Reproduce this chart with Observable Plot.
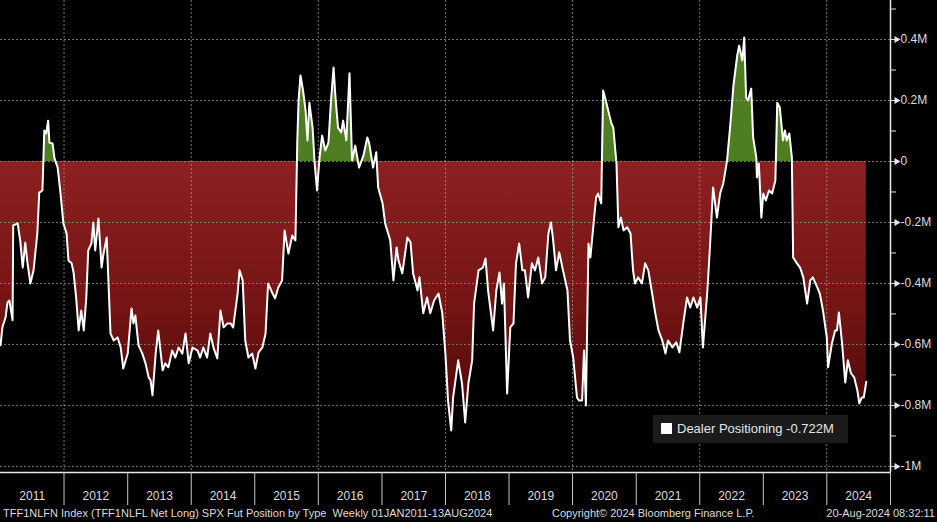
<!DOCTYPE html>
<html>
<head>
<meta charset="utf-8">
<script src="https://cdn.jsdelivr.net/npm/d3@7"></script>
<script src="https://cdn.jsdelivr.net/npm/@observablehq/plot@0.6"></script>
<style>
  html, body { margin: 0; padding: 0; background: #000; }
  #wrap { position: relative; width: 937px; height: 522px; overflow: hidden; background: #000;
          font-family: "Liberation Sans", Arial, sans-serif; }
  #chart svg { display: block; }
  #legend { position: absolute; left: 653px; top: 415px; width: 195px; height: 28px; background: #1b1b1b;
            color: #e6e6e6; font-size: 13px; line-height: 28px; white-space: nowrap; }
  #legend .sw { display: inline-block; width: 11px; height: 11px; background: #fff; margin: 0 5px 0 8px; vertical-align: -1px; }
  #footer { position: absolute; left: 0; top: 505px; width: 937px; height: 17px; color: #dcdcdc;
            font-size: 11px; line-height: 17px; white-space: nowrap; }
  #footer span { position: absolute; top: 0; }
</style>
</head>
<body>
<div id="wrap">
  <div id="chart"></div>
  <div id="legend"><span class="sw"></span><span id="legendText"></span></div>
  <div id="footer">
    <span id="fLeft" style="left:3px"></span>
    <span id="fMid" style="left:552px"></span>
    <span id="fRight" style="right:2px"></span>
  </div>
</div>
<script>
// ---- Data, weekly SPX futures dealer net positioning, in millions ----
const dealerYear = [
  2011.00,2011.03,2011.08,2011.11,2011.14,2011.19,2011.20,2011.27,2011.31,2011.35,2011.39,2011.42,2011.47,2011.52,
  2011.58,2011.61,2011.66,2011.69,2011.72,2011.75,2011.77,2011.82,2011.85,2011.90,2011.94,2011.99,
  2012.04,2012.07,2012.12,2012.15,2012.19,2012.23,2012.27,2012.31,2012.35,2012.38,2012.43,2012.46,2012.49,2012.54,
  2012.59,2012.62,2012.67,2012.68,2012.73,2012.78,2012.84,2012.89,2012.93,
  2013.00,2013.06,2013.09,2013.12,2013.17,2013.23,2013.28,2013.33,2013.36,2013.39,2013.44,2013.48,2013.55,2013.59,
  2013.64,2013.70,2013.75,2013.80,2013.86,2013.91,2013.96,
  2014.02,2014.10,2014.14,2014.19,2014.25,2014.30,2014.35,2014.41,2014.46,2014.51,2014.57,2014.62,2014.66,2014.73,
  2014.76,2014.81,2014.85,2014.90,2014.96,
  2015.01,2015.06,2015.12,2015.17,2015.21,2015.28,2015.32,2015.37,2015.43,2015.47,2015.53,2015.59,2015.64,2015.67,
  2015.69,2015.72,2015.76,2015.80,2015.83,2015.86,2015.91,2015.94,2015.98,
  2016.02,2016.06,2016.11,2016.16,2016.20,2016.24,2016.27,2016.31,2016.36,2016.39,2016.44,2016.49,2016.53,2016.58,
  2016.64,2016.71,2016.77,2016.80,2016.86,2016.91,2016.94,
  2017.01,2017.05,2017.13,2017.18,2017.23,2017.26,2017.32,2017.40,2017.45,2017.49,2017.56,2017.59,2017.65,2017.71,
  2017.76,2017.82,2017.89,2017.95,
  2018.00,2018.04,2018.09,2018.12,2018.20,2018.26,2018.31,2018.36,2018.42,2018.45,2018.52,2018.59,2018.63,2018.67,
  2018.75,2018.80,2018.85,2018.89,2018.92,2018.97,
  2019.02,2019.07,2019.11,2019.16,2019.21,2019.25,2019.30,2019.36,2019.41,2019.46,2019.52,2019.57,2019.62,2019.66,
  2019.69,2019.74,2019.79,2019.85,2019.92,2019.96,
  2020.01,2020.07,2020.10,2020.15,2020.18,2020.21,2020.25,2020.28,2020.32,2020.37,2020.40,2020.45,2020.48,2020.51,
  2020.56,2020.61,2020.64,2020.69,2020.72,2020.76,2020.80,2020.86,2020.91,2020.95,2020.98,
  2021.03,2021.09,2021.14,2021.19,2021.25,2021.30,2021.35,2021.41,2021.46,2021.50,2021.57,2021.63,2021.68,2021.74,
  2021.80,2021.85,2021.90,2021.96,
  2022.01,2022.05,2022.12,2022.16,2022.21,2022.27,2022.32,2022.37,2022.43,2022.48,2022.53,2022.59,2022.62,2022.67,
  2022.70,2022.73,2022.76,2022.81,2022.84,2022.89,2022.90,2022.93,2022.97,
  2023.00,2023.04,2023.09,2023.14,2023.19,2023.22,2023.26,2023.31,2023.34,2023.37,2023.41,2023.45,2023.47,2023.53,
  2023.58,2023.63,2023.69,2023.74,2023.78,2023.85,2023.89,2023.94,
  2024.00,2024.02,2024.08,2024.13,2024.16,2024.19,2024.24,2024.29,2024.33,2024.38,2024.43,2024.48,2024.51,2024.55,
  2024.58,2024.62
];
const dealerValue = [
  -0.603,-0.544,-0.511,-0.462,-0.456,-0.521,-0.210,-0.203,-0.259,-0.348,-0.266,-0.325,-0.400,-0.357,
  -0.236,-0.102,-0.095,0.102,0.092,0.134,0.062,0.059,0.010,-0.020,-0.095,-0.203,
  -0.236,-0.325,-0.334,-0.364,-0.446,-0.554,-0.489,-0.554,-0.446,-0.292,-0.269,-0.200,-0.292,-0.187,
  -0.348,-0.302,-0.249,-0.302,-0.564,-0.587,-0.577,-0.610,-0.679,
  -0.630,-0.482,-0.531,-0.505,-0.603,-0.630,-0.662,-0.708,-0.718,-0.767,-0.630,-0.554,-0.685,-0.662,
  -0.675,-0.620,-0.643,-0.610,-0.630,-0.564,-0.662,
  -0.610,-0.620,-0.643,-0.610,-0.643,-0.564,-0.610,-0.646,-0.489,-0.544,-0.531,-0.531,-0.544,-0.433,
  -0.357,-0.390,-0.587,-0.643,-0.630,
  -0.679,-0.626,-0.610,-0.564,-0.400,-0.433,-0.449,-0.413,-0.390,-0.226,-0.302,-0.243,-0.259,0.069,
  0.200,0.282,0.233,0.167,0.069,0.193,0.111,0.003,-0.095,
  0.013,0.085,0.036,0.062,0.200,0.308,0.210,0.111,0.095,0.134,0.069,0.289,0.003,0.052,
  -0.020,0.020,0.079,0.059,-0.020,0.030,-0.085,
  -0.138,-0.203,-0.259,-0.390,-0.282,-0.325,-0.367,-0.249,-0.266,-0.367,-0.423,-0.380,-0.498,-0.446,
  -0.498,-0.456,-0.433,-0.498,
  -0.636,-0.784,-0.882,-0.774,-0.652,-0.728,-0.856,-0.728,-0.652,-0.466,-0.357,-0.348,-0.318,-0.423,
  -0.554,-0.423,-0.364,-0.466,-0.400,-0.761,
  -0.544,-0.531,-0.334,-0.269,-0.357,-0.357,-0.446,-0.334,-0.357,-0.315,-0.400,-0.380,-0.236,-0.200,
  -0.249,-0.357,-0.298,-0.357,-0.423,-0.587,
  -0.643,-0.774,-0.784,-0.784,-0.620,-0.800,-0.269,-0.315,-0.226,-0.118,-0.105,-0.138,0.233,0.210,
  0.167,0.125,0.111,-0.007,-0.216,-0.184,-0.226,-0.216,-0.236,-0.357,-0.400,
  -0.380,-0.400,-0.334,-0.357,-0.433,-0.498,-0.554,-0.587,-0.630,-0.587,-0.610,-0.593,-0.626,-0.531,
  -0.446,-0.479,-0.446,-0.479,
  -0.446,-0.610,-0.423,-0.282,-0.085,-0.184,-0.105,-0.072,0.003,0.118,0.249,0.348,0.380,0.331,
  0.407,0.210,0.200,0.239,0.079,0.013,-0.052,-0.007,-0.184,
  -0.105,-0.128,-0.095,-0.105,-0.062,0.193,0.177,0.069,0.102,0.069,0.092,0.013,-0.315,-0.334,
  -0.348,-0.380,-0.466,-0.390,-0.380,-0.413,-0.433,-0.489,
  -0.577,-0.675,-0.597,-0.554,-0.554,-0.495,-0.597,-0.725,-0.652,-0.695,-0.708,-0.751,-0.793,-0.774,
  -0.774,-0.722
];
const seriesName = "Dealer Positioning";
const yearLabels = ["2011","2012","2013","2014","2015","2016","2017","2018","2019","2020","2021","2022","2023","2024"];
const yTicks = [0.4, 0.2, 0, -0.2, -0.4, -0.6, -0.8, -1];
const yTickLabels = ["0.4M", "0.2M", "0", "-0.2M", "-0.4M", "-0.6M", "-0.8M", "-1M"];
const yMinorTicks = [0.5, 0.3, 0.1, -0.1, -0.3, -0.5, -0.7, -0.9];
const footerLeft = "TFF1NLFN Index (TFF1NLFL Net Long) SPX Fut Position by Type\u00A0\u00A0Weekly 01JAN2011-13AUG2024";
const footerMid = "Copyright\u00A9 2024 Bloomberg Finance L.P.";
const footerRight = "20-Aug-2024 08:32:11";

// ---- Build ----
function decToDate(d) {
  const y = Math.floor(d);
  const s = Date.UTC(y, 0, 1), e = Date.UTC(y + 1, 0, 1);
  return new Date(s + (d - y) * (e - s));
}
const series = dealerYear.map((d, i) => ({date: decToDate(d), v: dealerValue[i]}));

// fill helper: add zero crossings so the green/red areas meet the line exactly
const fillData = [];
series.forEach((a, i) => {
  if (i > 0) {
    const p = series[i - 1];
    if ((p.v > 0 && a.v < 0) || (p.v < 0 && a.v > 0)) {
      const t = p.v / (p.v - a.v);
      fillData.push({date: new Date(+p.date + t * (a.date - p.date)), v: 0});
    }
  }
  fillData.push(a);
});

const yearNums = yearLabels.map(Number);
const yearStarts = yearNums.slice(1).concat([yearNums[yearNums.length - 1] + 1]).map(y => new Date(Date.UTC(y, 0, 1)));
const yearMids = yearNums.map(y => new Date((Date.UTC(y, 0, 1) + Date.UTC(y + 1, 0, 1)) / 2));
const gridYears = yearNums.filter(y => y % 2 === 0).map(y => new Date(Date.UTC(y, 0, 1)));

const chart = Plot.plot({
  width: 937,
  height: 505,
  marginLeft: 0,
  marginRight: 47,
  marginTop: 0,
  marginBottom: 33,
  style: {background: "#000", color: "#dcdcdc", fontFamily: "Liberation Sans, Arial, sans-serif", fontSize: "12px", overflow: "visible"},
  x: {type: "utc", domain: [new Date(Date.UTC(yearNums[0], 0, 1)), new Date(Date.UTC(yearNums[yearNums.length - 1] + 1, 0, 1))], axis: null, label: null},
  y: {domain: [-1.02, 0.528], axis: null, label: null},
  marks: [
    Plot.areaY(fillData, {x: "date", y1: 0, y2: d => Math.max(0, d.v), fill: "#4f7d22", curve: "linear"}),
    Plot.areaY(fillData, {x: "date", y1: 0, y2: d => Math.min(0, d.v), fill: "url(#redFade)", curve: "linear"}),
    Plot.gridY(yTicks, {stroke: "#9a9a9a", strokeOpacity: 0.75, strokeDasharray: "2,2", strokeWidth: 1}),
    Plot.gridX(gridYears, {stroke: "#9a9a9a", strokeOpacity: 0.75, strokeDasharray: "2,2", strokeWidth: 1}),
    Plot.lineY(series, {x: "date", y: "v", stroke: "#ffffff", strokeWidth: 2, curve: "linear"}),
    Plot.ruleY([-1.02], {stroke: "#e8e8e8", strokeWidth: 1.5}),
    Plot.ruleX([new Date(Date.UTC(yearNums[yearNums.length - 1] + 1, 0, 1))], {stroke: "#e8e8e8", strokeWidth: 1.5}),
    // year separators below the axis
    Plot.axisX(yearStarts, {anchor: "bottom", label: null, tickSize: 33, tickFormat: () => "", stroke: "#c8c8c8", strokeWidth: 1}),
    // year labels centred in each year band
    Plot.axisX(yearMids, {anchor: "bottom", label: null, tickSize: 0, tickPadding: 19, fill: "#dcdcdc", fontSize: 12,
      tickFormat: d => yearLabels[d.getUTCFullYear() - yearNums[0]]}),
    // right value axis
    Plot.axisY(yMinorTicks, {anchor: "right", label: null, tickSize: 5, tickFormat: () => "", stroke: "#e0e0e0"}),
    Plot.axisY(yTicks, {anchor: "right", label: null, tickSize: 6, tickPadding: 4, fill: "#dcdcdc", stroke: "#e0e0e0", fontSize: 12,
      tickFormat: d => yTickLabels[yTicks.indexOf(d)]}),
    Plot.dot(yTicks, {y: d => d, frameAnchor: "right", dx: 6, symbol: "triangle", rotate: 90, r: 2.6, fill: "#e8e8e8", stroke: null})
  ]
});

const ns = "http://www.w3.org/2000/svg";
const defs = document.createElementNS(ns, "defs");
const grad = document.createElementNS(ns, "linearGradient");
grad.setAttribute("id", "redFade");
grad.setAttribute("x1", "0"); grad.setAttribute("y1", "0");
grad.setAttribute("x2", "0"); grad.setAttribute("y2", "1");
[["0", "#8e2020"], ["0.55", "#741414"], ["1", "#4a0606"]].forEach(([o, c]) => {
  const s = document.createElementNS(ns, "stop");
  s.setAttribute("offset", o); s.setAttribute("stop-color", c);
  grad.appendChild(s);
});
defs.appendChild(grad);
chart.insertBefore(defs, chart.firstChild);

document.getElementById("chart").appendChild(chart);
const last = dealerValue[dealerValue.length - 1];
document.getElementById("legendText").textContent = `${seriesName} ${last.toFixed(3)}M`;
document.getElementById("fLeft").textContent = footerLeft;
document.getElementById("fMid").textContent = footerMid;
document.getElementById("fRight").textContent = footerRight;
</script>
</body>
</html>
